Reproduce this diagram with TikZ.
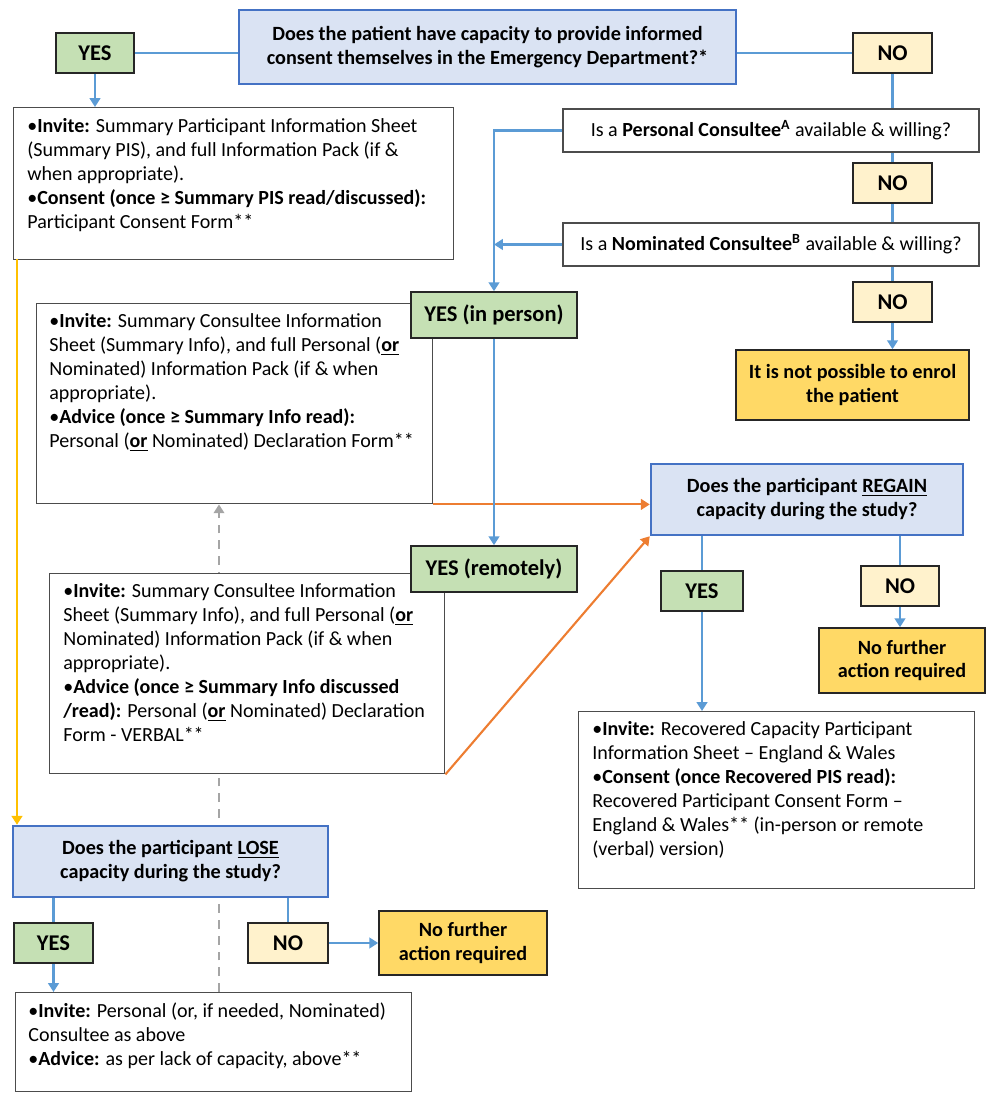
\documentclass[tikz,border=0pt]{standalone}
\usepackage{fontspec}
\setmainfont{Carlito}
\usetikzlibrary{arrows.meta,positioning}
\pgfdeclarelayer{background}
\pgfsetlayers{background,main}
\definecolor{qfill}{HTML}{DAE3F3}
\definecolor{qline}{HTML}{4472C4}
\definecolor{yesfill}{HTML}{C5E0B4}
\definecolor{nofill}{HTML}{FFF2CC}
\definecolor{endfill}{HTML}{FFD966}
\definecolor{lblue}{HTML}{5B9BD5}
\definecolor{lorange}{HTML}{ED7D31}
\definecolor{lgold}{HTML}{FFC000}
\definecolor{lgray}{HTML}{A5A5A5}
\tikzset{
  ques/.style={draw=qline, fill=qfill, line width=1.4pt, align=center, inner sep=0pt,
    font=\fontsize{11.5}{13.6}\selectfont\bfseries},
  yesbox/.style={draw=black!85, fill=yesfill, line width=0.9pt, inner sep=0pt,
    minimum height=0.80cm, font=\fontsize{12.8}{14}\selectfont\bfseries},
  nobox/.style={yesbox, fill=nofill},
  endbox/.style={draw=black!85, fill=endfill, line width=0.9pt, align=center, inner sep=0pt,
    font=\fontsize{11.5}{13.6}\selectfont\bfseries},
  askbox/.style={draw=black!70, fill=white, line width=0.8pt, inner sep=0pt,
    minimum width=8.32cm, minimum height=0.86cm, font=\fontsize{11.4}{13.6}\selectfont},
  infobox/.style={draw=black!70, fill=white, line width=0.8pt, inner sep=0pt, anchor=north west},
  infotxt/.style={anchor=north west, align=left, inner sep=0pt,
    font=\fontsize{11.4}{13.7}\selectfont},
  link/.style={draw=lblue, line width=1.2pt},
  arr/.style={link, -{Triangle[width=6pt,length=5pt]}},
  oarr/.style={draw=lorange, line width=1.2pt, -{Triangle[width=6pt,length=5pt]}},
  yarr/.style={draw=lgold, line width=1.2pt, -{Triangle[width=6pt,length=5pt]}},
  darr/.style={draw=lgray, line width=1.2pt, dash pattern=on 5pt off 4pt, -{Triangle[width=6pt,length=5pt]}}
}
\begin{document}
\begin{tikzpicture}
\useasboundingbox (0,0) rectangle (20,-22.12);
% text boxes
\node[infobox, minimum width=8.80cm, minimum height=3.04cm] (boxA) at (0.26,-2.14) {};
\node[infotxt] (txtA) at ([shift={(0.28,-0.22)}]boxA.north west)
  {•\textbf{Invite:} Summary Participant Information Sheet\\
   (Summary PIS), and full Information Pack (if \&\\
   when appropriate).\\
   •\textbf{Consent (once ≥ Summary PIS read/discussed):}\\
   Participant Consent Form**};
\node[infobox, minimum width=7.92cm, minimum height=4.00cm] (boxB) at (0.72,-6.06) {};
\node[infotxt] (txtB) at ([shift={(0.26,-0.2)}]boxB.north west)
  {•\textbf{Invite:} Summary Consultee Information\\
   Sheet (Summary Info), and full Personal (\underline{\textbf{or}}\\
   Nominated) Information Pack (if \& when\\
   appropriate).\\
   •\textbf{Advice (once ≥ Summary Info read):}\\
   Personal (\underline{\textbf{or}} Nominated) Declaration Form**};
\node[infobox, minimum width=7.90cm, minimum height=4.00cm] (boxC) at (0.98,-11.46) {};
\node[infotxt] (txtC) at ([shift={(0.28,-0.2)}]boxC.north west)
  {•\textbf{Invite:} Summary Consultee Information\\
   Sheet (Summary Info), and full Personal (\underline{\textbf{or}}\\
   Nominated) Information Pack (if \& when\\
   appropriate).\\
   •\textbf{Advice (once ≥ Summary Info discussed}\\
   \textbf{/read):} Personal (\underline{\textbf{or}} Nominated) Declaration\\
   Form - VERBAL**};
\node[infobox, minimum width=7.92cm, minimum height=3.54cm] (boxE) at (11.56,-14.22) {};
\node[infotxt] (txtE) at ([shift={(0.28,-0.2)}]boxE.north west)
  {•\textbf{Invite:} Recovered Capacity Participant\\
   Information Sheet – England \& Wales\\
   •\textbf{Consent (once Recovered PIS read):}\\
   Recovered Participant Consent Form –\\
   England \& Wales** (in-person or remote\\
   (verbal) version)};
\node[infobox, minimum width=7.92cm, minimum height=1.98cm] (boxD) at (0.30,-19.84) {};
\node[infotxt] (txtD) at ([shift={(0.26,-0.2)}]boxD.north west)
  {•\textbf{Invite:} Personal (or, if needed, Nominated)\\
   Consultee as above\\
   •\textbf{Advice:} as per lack of capacity, above**};
% questions
\node[ques, minimum width=9.94cm, minimum height=1.48cm] (q1) at (9.75,-0.94)
  {Does the patient have capacity to provide informed\\consent themselves in the Emergency Department?*};
\node[askbox] (pc) at (15.42,-2.61) {Is a \textbf{Personal Consultee\textsuperscript{A}} available \& willing?};
\node[askbox] (nc) at (15.42,-4.89) {Is a \textbf{Nominated Consultee\textsuperscript{B}} available \& willing?};
\node[ques, minimum width=6.24cm, minimum height=1.42cm] (regain) at (16.14,-9.99)
  {Does the participant \underline{REGAIN}\\capacity during the study?};
\node[ques, minimum width=6.30cm, minimum height=1.42cm] (lose) at (3.41,-17.23)
  {Does the participant \underline{LOSE}\\capacity during the study?};
% answers
\node[yesbox, minimum width=1.56cm] (yes1) at (1.90,-1.06) {YES};
\node[nobox, minimum width=1.58cm] (no1) at (17.85,-1.06) {NO};
\node[nobox, minimum width=1.58cm] (no2) at (17.85,-3.66) {NO};
\node[nobox, minimum width=1.58cm] (no3) at (17.85,-6.04) {NO};
\node[yesbox, minimum width=3.32cm, minimum height=0.92cm] (yesp) at (9.88,-6.30) {YES (in person)};
\node[yesbox, minimum width=3.32cm, minimum height=0.92cm] (yesr) at (9.88,-11.38) {YES (remotely)};
\node[yesbox, minimum width=1.64cm] (yes2) at (14.04,-11.82) {YES};
\node[nobox, minimum width=1.56cm] (no4) at (18.00,-11.72) {NO};
\node[yesbox, minimum width=1.58cm] (yes3) at (1.07,-18.86) {YES};
\node[nobox, minimum width=1.60cm] (no5) at (5.76,-18.86) {NO};
% end points
\node[endbox, minimum width=4.66cm, minimum height=1.40cm] (enrol) at (17.05,-7.70)
  {It is not possible to enrol\\the patient};
\node[endbox, minimum width=3.32cm, minimum height=1.30cm] (nfa1) at (18.04,-13.21)
  {No further\\action required};
\node[endbox, minimum width=3.36cm, minimum height=1.28cm] (nfa2) at (9.26,-18.86)
  {No further\\action required};
% connectors
\coordinate (yl) at (0.34,-5.18);
\coordinate (dl) at (4.38,-19.84);
\begin{pgfonlayer}{background}
\draw[darr] (dl) -- (dl |- boxB.south);
\end{pgfonlayer}
\draw[link] (yes1.east) -- (yes1.east -| q1.west);
\draw[link] (q1.east |- no1.west) -- (no1.west);
\draw[arr] (yes1.south) -- (yes1.south |- boxA.north);
\draw[link] (no1.south) -- (no1.south |- pc.north);
\draw[link] (no2.north |- pc.south) -- (no2.north);
\draw[link] (no2.south) -- (no2.south |- nc.north);
\draw[link] (no3.north |- nc.south) -- (no3.north);
\draw[arr] (no3.south) -- (no3.south |- enrol.north);
\draw[arr] (pc.west) -| (yesp.north);
\draw[arr] (nc.west) -- (nc.west -| yesp.north);
\draw[oarr] (boxB.south east) -- (boxB.south east -| regain.west);
\draw[oarr] (boxC.south east) -- (regain.south west);
\draw[arr] (yesp.south) -- (yesr.north);
\draw[yarr] (yl) -- (yl |- lose.north);
\draw[link] (yes2.north |- regain.south) -- (yes2.north);
\draw[link] (no4.north |- regain.south) -- (no4.north);
\draw[arr] (yes2.south) -- (yes2.south |- boxE.north);
\draw[arr] (no4.south) -- (no4.south |- nfa1.north);
\draw[link] (yes3.north |- lose.south) -- (yes3.north);
\draw[link] (no5.north |- lose.south) -- (no5.north);
\draw[arr] (yes3.south) -- (yes3.south |- boxD.north);
\draw[arr] (no5.east) -- (nfa2.west);
\end{tikzpicture}
\end{document}
